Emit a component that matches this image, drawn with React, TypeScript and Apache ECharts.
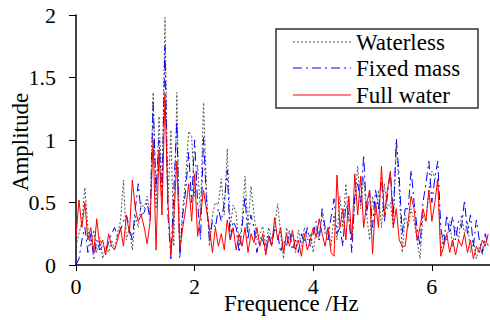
import React, { useEffect, useRef } from "react";
import * as echarts from "echarts";

// frequency resolution of the spectra (Hz)
const df = 0.05;

const waterless = [
  0.15, 0.25, 0.35, 0.62, 0.30, 0.15, 0.28, 0.10, 0.22, 0.05,
  0.15, 0.10, 0.20, 0.12, 0.25, 0.35, 0.68, 0.20, 0.30, 0.12,
  0.40, 0.30, 0.50, 0.45, 0.55, 0.40, 1.38, 0.45, 1.19, 0.60,
  1.98, 0.50, 1.08, 0.15, 1.38, 0.10, 0.45, 0.70, 1.07, 1.03,
  0.55, 0.80, 0.40, 1.30, 0.60, 0.15, 0.40, 0.50, 0.48, 0.69,
  0.40, 0.93, 0.30, 0.48, 0.42, 0.15, 0.35, 0.71, 0.30, 0.63,
  0.41, 0.20, 0.25, 0.31, 0.15, 0.30, 0.20, 0.30, 0.49, 0.25,
  0.05, 0.30, 0.20, 0.25, 0.10, 0.28, 0.15, 0.30, 0.20, 0.25,
  0.10, 0.30, 0.20, 0.42, 0.25, 0.30, 0.15, 0.40, 0.20, 0.55,
  0.30, 0.65, 0.35, 0.20, 0.50, 0.79, 0.45, 0.70, 0.40, 0.20,
  0.55, 0.40, 0.60, 0.30, 0.65, 0.45, 0.50, 0.30, 0.96, 0.60,
  0.10, 0.40, 0.30, 0.45, 0.35, 0.20, 0.05, 0.40, 0.35, 0.60,
  0.75, 0.70, 0.65, 0.10, 0.25, 0.20, 0.35, 0.15, 0.30, 0.20,
  0.40, 0.25, 0.35, 0.10, 0.20, 0.05, 0.15, 0.08, 0.20, 0.22,
];

const fixedMass = [
  0.00, 0.05, 0.20, 0.30, 0.10, 0.25, 0.05, 0.20, 0.12, 0.15,
  0.10, 0.18, 0.25, 0.30, 0.22, 0.28, 0.35, 0.40, 0.30, 0.20,
  0.45, 0.65, 0.40, 0.42, 0.50, 0.35, 1.30, 0.60, 1.00, 0.55,
  1.75, 0.40, 0.05, 0.60, 1.15, 0.05, 0.40, 0.60, 0.90, 0.50,
  1.00, 0.50, 0.20, 1.02, 0.50, 0.20, 0.35, 0.30, 0.45, 0.35,
  0.50, 0.76, 0.20, 0.35, 0.30, 0.10, 0.30, 0.55, 0.20, 0.40,
  0.30, 0.10, 0.22, 0.20, 0.10, 0.25, 0.15, 0.30, 0.25, 0.10,
  0.20, 0.15, 0.28, 0.12, 0.20, 0.10, 0.25, 0.18, 0.30, 0.15,
  0.25, 0.35, 0.20, 0.45, 0.30, 0.20, 0.38, 0.53, 0.25, 0.30,
  0.15, 0.50, 0.40, 0.10, 0.55, 0.65, 0.50, 0.88, 0.40, 0.60,
  0.30, 0.60, 0.45, 0.70, 0.35, 0.55, 0.75, 0.40, 1.01, 0.70,
  0.25, 0.45, 0.45, 0.76, 0.50, 0.30, 0.15, 0.50, 0.65, 0.83,
  0.50, 0.70, 0.83, 0.30, 0.15, 0.40, 0.25, 0.39, 0.20, 0.35,
  0.30, 0.52, 0.25, 0.40, 0.15, 0.36, 0.20, 0.10, 0.25, 0.15,
];

const fullWater = [
  0.22, 0.52, 0.30, 0.50, 0.20, 0.30, 0.10, 0.37, 0.15, 0.20,
  0.08, 0.25, 0.15, 0.12, 0.20, 0.30, 0.15, 0.40, 0.25, 0.68,
  0.45, 0.35, 0.40, 0.30, 0.17, 0.35, 1.00, 0.12, 0.92, 0.40,
  1.37, 0.50, 0.08, 0.40, 0.83, 0.12, 0.30, 0.45, 0.65, 0.35,
  0.73, 0.23, 0.40, 0.60, 0.44, 0.30, 0.10, 0.30, 0.15, 0.25,
  0.12, 0.36, 0.20, 0.30, 0.12, 0.25, 0.15, 0.30, 0.10, 0.25,
  0.18, 0.30, 0.15, 0.25, 0.08, 0.22, 0.15, 0.38, 0.20, 0.30,
  0.10, 0.25, 0.15, 0.28, 0.12, 0.20, 0.07, 0.25, 0.12, 0.20,
  0.30, 0.22, 0.37, 0.25, 0.15, 0.30, 0.10, 0.07, 0.72, 0.30,
  0.45, 0.20, 0.55, 0.20, 0.73, 0.40, 0.71, 0.30, 0.49, 0.60,
  0.09, 0.50, 0.30, 0.79, 0.40, 0.60, 0.75, 0.30, 0.45, 0.20,
  0.15, 0.15, 0.35, 0.55, 0.45, 0.20, 0.30, 0.45, 0.35, 0.60,
  0.35, 0.50, 0.69, 0.07, 0.15, 0.25, 0.10, 0.20, 0.08, 0.20,
  0.15, 0.25, 0.10, 0.20, 0.05, 0.15, 0.10, 0.20, 0.15, 0.25,
];

const seriesNames = ["Waterless", "Fixed mass", "Full water"];
const seriesColors = ["#555555", "#0000ff", "#ff0000"];
const seriesDash: (number[] | null)[] = [[2, 2], [9, 4, 2, 4], null];
const xTicks = { min: 0, max: 6.98, interval: 2 };
const yTicks = { min: 0, max: 2, interval: 0.5 };
const xName = "Frequence /Hz";
const yName = "Amplitude";

const FONT = "'Times New Roman', 'Liberation Serif', serif";

const toPairs = (vals: number[]) => vals.map((v, i) => [+(i * df).toFixed(2), v]);

export default function App() {
  const ref = useRef<HTMLDivElement>(null);
  useEffect(() => {
    if (!ref.current) return;
    const chart = echarts.init(ref.current, null, { renderer: "svg" });
    const legendRows = [42, 68, 95];
    const legendGraphics: any[] = [
      {
        type: "rect",
        shape: { x: 276, y: 29, width: 202, height: 79 },
        style: { fill: "#fff", stroke: "#333", lineWidth: 1.5 },
        z: 100,
      },
    ];
    seriesNames.forEach((name, k) => {
      legendGraphics.push({
        type: "line",
        shape: { x1: 293, y1: legendRows[k], x2: 351, y2: legendRows[k] },
        style: {
          stroke: seriesColors[k],
          lineWidth: 1,
          lineDash: seriesDash[k] || undefined,
        },
        z: 101,
      });
      legendGraphics.push({
        type: "text",
        x: 356,
        y: legendRows[k],
        style: {
          text: name,
          fontFamily: FONT,
          fontSize: 23,
          fill: "#000",
          align: "left",
          verticalAlign: "middle",
        },
        z: 101,
      });
    });
    chart.setOption({
      animation: false,
      backgroundColor: "#fff",
      grid: { left: 76, top: 15, right: 0, bottom: 55 },
      xAxis: {
        type: "value",
        min: xTicks.min,
        max: xTicks.max,
        interval: xTicks.interval,
        axisLine: { lineStyle: { color: "#000", width: 1.5 } },
        axisTick: { show: true, inside: false, length: 6, lineStyle: { color: "#000" } },
        axisLabel: { fontFamily: FONT, fontSize: 22, color: "#000", margin: 10, showMaxLabel: false },
        splitLine: { show: false },
      },
      yAxis: {
        type: "value",
        min: yTicks.min,
        max: yTicks.max,
        interval: yTicks.interval,
        axisLine: { show: true, lineStyle: { color: "#000", width: 1.5 } },
        axisTick: { show: true, inside: false, length: 7, lineStyle: { color: "#000" } },
        axisLabel: { fontFamily: FONT, fontSize: 22, color: "#000", margin: 20 },
        splitLine: { show: false },
      },
      graphic: [
        {
          type: "text",
          x: 224,
          y: 292,
          style: { text: xName, fontFamily: FONT, fontSize: 23, fill: "#000" },
        },
        {
          type: "text",
          x: 20,
          y: 142,
          rotation: Math.PI / 2,
          style: {
            text: yName,
            fontFamily: FONT,
            fontSize: 23,
            fill: "#000",
            align: "center",
            verticalAlign: "middle",
          },
        },
        ...legendGraphics,
      ],
      series: seriesNames.map((name, k) => ({
        name,
        type: "line",
        symbol: "none",
        data: toPairs([waterless, fixedMass, fullWater][k]),
        lineStyle: {
          color: seriesColors[k],
          width: 1,
          type: seriesDash[k] || "solid",
        },
        itemStyle: { color: seriesColors[k] },
        z: k + 1,
      })),
    });
    return () => chart.dispose();
  }, []);
  return <div ref={ref} style={{ width: 490, height: 320, position: "absolute", left: 0, top: 0 }} />;
}
